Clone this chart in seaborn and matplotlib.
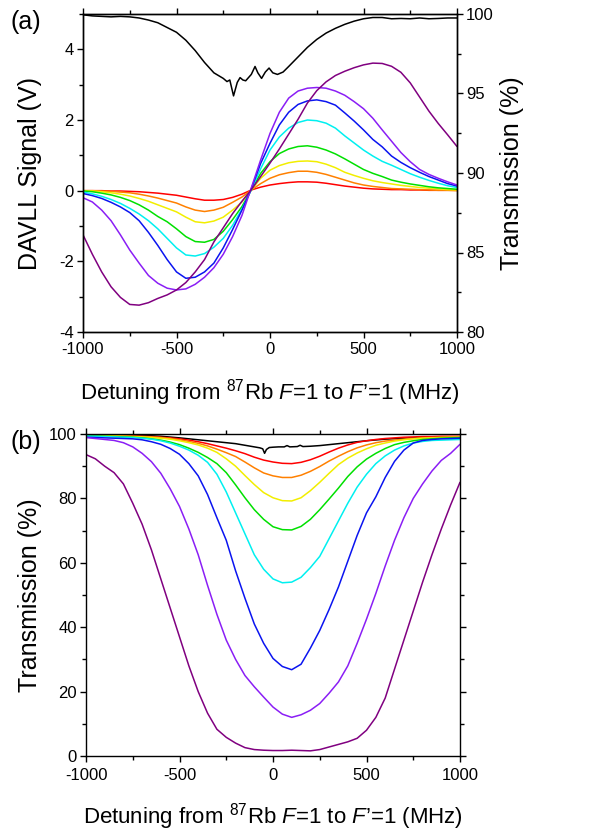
import numpy as np
import pandas as pd
import matplotlib
matplotlib.use("Agg")
import matplotlib.pyplot as plt
import seaborn as sns
from matplotlib.ticker import MultipleLocator

# ---------------- data ----------------
detuning = [-1000, -950, -900, -850, -800, -750, -700, -650, -600, -550, -500,
            -450, -400, -350, -300, -250, -200, -150, -100, -50, 0,
            50, 100, 150, 200, 250, 300, 350, 400, 450, 500,
            550, 600, 650, 700, 750, 800, 850, 900, 950, 1000]

# panel (a): DAVLL signal (V)
red_a = [0.00, 0.00, 0.00, -0.01, -0.01, -0.02, -0.03, -0.05, -0.07, -0.10, -0.13, -0.18, -0.23, -0.27, -0.27, -0.25, -0.19, -0.10, 0.02,
         0.10, 0.16, 0.20, 0.23, 0.25, 0.25, 0.24, 0.21, 0.17, 0.13, 0.10, 0.07, 0.05, 0.04, 0.03, 0.03, 0.02, 0.02, 0.01, 0.01, 0.01, 0.01]
orange_a = [0.00, 0.00, -0.01, -0.02, -0.04, -0.06, -0.10, -0.15, -0.21, -0.28, -0.35, -0.46, -0.55, -0.59, -0.55, -0.47, -0.33, -0.18, 0.02,
            0.20, 0.35, 0.45, 0.51, 0.55, 0.55, 0.52, 0.46, 0.38, 0.30, 0.22, 0.16, 0.12, 0.09, 0.06, 0.05, 0.04, 0.03, 0.02, 0.01, 0.01, 0.00]
yellow_a = [0.00, -0.01, -0.03, -0.06, -0.10, -0.15, -0.22, -0.30, -0.40, -0.50, -0.60, -0.75, -0.88, -0.91, -0.86, -0.75, -0.55, -0.32, 0.02,
            0.35, 0.58, 0.71, 0.79, 0.83, 0.84, 0.82, 0.75, 0.65, 0.52, 0.43, 0.35, 0.28, 0.23, 0.19, 0.15, 0.12, 0.09, 0.07, 0.05, 0.03, 0.02]
green_a = [-0.01, -0.03, -0.07, -0.12, -0.19, -0.28, -0.40, -0.55, -0.73, -0.88, -1.08, -1.30, -1.44, -1.46, -1.38, -1.15, -0.82, -0.45, 0.02,
           0.49, 0.82, 1.05, 1.18, 1.25, 1.27, 1.23, 1.15, 1.04, 0.90, 0.75, 0.60, 0.49, 0.40, 0.30, 0.24, 0.19, 0.15, 0.11, 0.08, 0.06, 0.04]
cyan_a = [-0.04, -0.09, -0.16, -0.25, -0.36, -0.50, -0.66, -0.85, -1.08, -1.35, -1.62, -1.82, -1.85, -1.78, -1.60, -1.35, -0.98, -0.52, 0.03,
          0.62, 1.15, 1.52, 1.77, 1.93, 2.00, 1.98, 1.91, 1.77, 1.55, 1.35, 1.15, 0.98, 0.83, 0.72, 0.60, 0.48, 0.38, 0.29, 0.21, 0.14, 0.09]
blue_a = [-0.08, -0.14, -0.22, -0.33, -0.46, -0.62, -0.85, -1.18, -1.55, -1.95, -2.30, -2.48, -2.45, -2.30, -2.05, -1.62, -1.10, -0.55, 0.05,
          0.77, 1.34, 1.86, 2.22, 2.44, 2.54, 2.57, 2.52, 2.42, 2.20, 1.97, 1.72, 1.45, 1.24, 0.98, 0.80, 0.65, 0.52, 0.40, 0.30, 0.20, 0.13]
violet_a = [-0.20, -0.32, -0.55, -0.85, -1.25, -1.68, -2.05, -2.40, -2.62, -2.76, -2.81, -2.78, -2.65, -2.45, -2.18, -1.80, -1.30, -0.70, 0.08,
            0.87, 1.62, 2.22, 2.62, 2.82, 2.90, 2.92, 2.90, 2.82, 2.70, 2.52, 2.32, 2.05, 1.72, 1.40, 1.08, 0.82, 0.60, 0.46, 0.35, 0.25, 0.16]
purple_a = [-1.25, -1.80, -2.30, -2.72, -3.02, -3.22, -3.24, -3.17, -3.05, -2.95, -2.81, -2.60, -2.30, -1.95, -1.45, -1.05, -0.65, -0.30, 0.03,
            0.40, 0.78, 1.18, 1.60, 2.02, 2.48, 2.83, 3.08, 3.26, 3.38, 3.48, 3.56, 3.61, 3.60, 3.52, 3.35, 3.05, 2.65, 2.25, 1.90, 1.58, 1.25]

# panel (a): reference transmission (%), right axis
detuning_ka = [-1000, -950, -900, -850, -800, -750, -700, -650, -600, -550, -500, -450, -400, -350, -300, -250,
               -230, -215, -195, -175, -160, -145, -130,
               -100, -80, -65, -45, -25, -5, 15, 40, 70,
               100, 150, 200, 250, 300, 350, 400, 450, 500, 550, 600, 650, 700, 750, 800, 850, 900, 950, 1000]
black_a = [99.95, 99.88, 99.85, 99.82, 99.85, 99.82, 99.75, 99.62, 99.45, 99.15, 98.85, 98.35, 97.70, 96.95, 96.30, 95.95,
           95.75, 95.85, 94.85, 95.70, 96.00, 95.85, 95.80,
           96.20, 96.70, 96.30, 95.95, 96.35, 96.60, 96.30, 96.20, 96.35,
           96.70, 97.30, 97.90, 98.40, 98.80, 99.10, 99.35, 99.55, 99.70, 99.78, 99.78, 99.70, 99.72, 99.70, 99.75, 99.70, 99.72, 99.75, 99.75]

# panel (b): transmission (%)
red_b = [99.7, 99.7, 99.6, 99.6, 99.5, 99.4, 99.3, 99.2, 99.0, 98.8, 98.5, 98.1, 97.6, 97.0, 96.3, 95.6, 94.8, 93.9, 92.8,
         91.9, 91.3, 90.9, 90.8, 91.2, 92.0, 93.1, 94.4, 95.6, 96.6, 97.4, 97.9, 98.3, 98.6, 98.8, 99.0, 99.1, 99.2, 99.2, 99.3, 99.3, 99.3]
orange_b = [99.8, 99.7, 99.6, 99.5, 99.4, 99.3, 99.2, 99.1, 98.9, 98.6, 98.2, 97.7, 97.1, 96.3, 95.3, 94.2, 93.0, 91.3, 89.5,
            87.9, 87.0, 86.5, 86.5, 87.2, 88.4, 89.9, 91.6, 93.1, 94.5, 95.7, 96.6, 97.3, 97.8, 98.1, 98.4, 98.6, 98.8, 98.9, 99.0, 99.0, 99.1]
yellow_b = [99.7, 99.6, 99.5, 99.4, 99.3, 99.2, 99.1, 98.9, 98.7, 98.4, 97.9, 97.3, 96.6, 95.6, 94.3, 92.3, 90.0, 87.1, 84.3,
            81.8, 80.2, 79.3, 79.2, 80.2, 82.4, 85.0, 87.8, 90.5, 92.5, 94.1, 95.4, 96.5, 97.2, 97.8, 98.2, 98.5, 98.7, 98.8, 98.9, 99.0, 99.0]
green_b = [99.5, 99.4, 99.3, 99.2, 99.1, 99.0, 98.8, 98.5, 98.1, 97.5, 96.7, 95.6, 94.3, 92.7, 90.8, 88.0, 84.2, 80.2, 76.5,
           73.5, 71.2, 70.3, 70.2, 71.3, 73.5, 76.5, 79.8, 83.2, 86.8, 89.8, 92.2, 94.0, 95.5, 96.7, 97.4, 97.9, 98.3, 98.5, 98.7, 98.8, 98.9]
cyan_b = [99.4, 99.3, 99.2, 99.1, 99.0, 98.9, 98.7, 98.4, 97.9, 97.2, 96.2, 95.0, 93.4, 91.2, 87.5, 82.0, 75.5, 69.0, 62.5,
          58.0, 55.0, 53.8, 54.0, 55.5, 58.5, 62.0, 67.5, 73.0, 78.5, 83.5, 87.5, 90.8, 93.2, 95.0, 96.3, 97.2, 97.7, 98.0, 98.1, 98.2, 98.3]
blue_b = [99.0, 98.9, 98.8, 98.7, 98.6, 98.5, 98.2, 97.6, 96.8, 95.5, 93.7, 90.8, 87.0, 81.2, 74.0, 67.0, 57.5, 49.0, 41.0,
          35.0, 30.3, 27.8, 26.8, 28.5, 33.5, 39.0, 45.5, 52.5, 60.5, 68.5, 75.5, 80.5, 86.5, 91.5, 95.0, 97.2, 98.0, 98.3, 98.5, 98.6, 98.7]
violet_b = [98.9, 98.6, 98.3, 98.0, 97.3, 96.0, 94.0, 91.4, 87.8, 83.0, 77.5, 70.5, 62.5, 53.0, 44.0, 36.0, 30.0, 25.0, 21.5,
            18.3, 15.2, 13.0, 12.0, 12.8, 14.2, 16.3, 19.5, 23.0, 28.0, 35.0, 42.5, 50.5, 59.0, 67.0, 74.0, 80.0, 84.5, 88.5, 91.8, 94.0, 96.8]
purple_b = [93.6, 92.3, 90.0, 88.0, 84.5, 78.5, 72.0, 64.0, 55.0, 46.0, 37.0, 28.0, 20.0, 13.3, 8.3, 5.8, 4.0, 2.6, 2.0,
            1.8, 1.7, 1.7, 1.8, 1.7, 1.6, 2.0, 2.8, 3.6, 4.4, 5.5, 8.0, 12.0, 18.0, 27.0, 36.0, 45.0, 54.0, 62.5, 70.5, 78.0, 85.0]

detuning_kb = [-1000, -900, -800, -700, -600, -500, -400, -300, -250, -200,
               -150, -100, -70, -55, -45, -35, -20, 0, 30, 60,
               75, 90, 130, 145, 160, 200, 250, 300, 400, 500,
               600, 700, 800, 900, 1000]
black_b = [99.9, 99.8, 99.7, 99.6, 99.3, 98.8, 98.2, 97.6, 97.3, 97.0,
           96.5, 96.0, 95.7, 95.4, 94.0, 95.2, 95.8, 95.9, 96.0, 96.0,
           96.4, 96.0, 96.1, 96.5, 96.1, 96.2, 96.4, 96.7, 97.3, 97.9,
           98.4, 98.7, 98.9, 99.0, 99.0]

series_names = ["red", "orange", "yellow", "green", "cyan", "blue", "violet", "purple"]
line_colors = ["#FF0000", "#FF8000", "#F2EE00", "#00E000", "#00F0F0", "#0A14F0", "#8A1EF5", "#800080"]
davll = [red_a, orange_a, yellow_a, green_a, cyan_a, blue_a, violet_a, purple_a]
trans = [red_b, orange_b, yellow_b, green_b, cyan_b, blue_b, violet_b, purple_b]

xlabel_text = "Detuning from $^{87}$Rb $F$=1 to $F$\u2019=1 (MHz)"

# ---------------- style ----------------
sns.set_theme(style="ticks")
plt.rcParams.update({
    "font.family": ["Liberation Sans", "DejaVu Sans"],
    "axes.unicode_minus": False,
    "mathtext.fontset": "custom",
    "mathtext.rm": "Liberation Sans",
    "mathtext.it": "Liberation Sans:italic",
    "mathtext.bf": "Liberation Sans:bold",
    "mathtext.sf": "Liberation Sans",
    "axes.linewidth": 1.0,
    "axes.edgecolor": "black",
    "xtick.color": "black",
    "ytick.color": "black",
    "text.color": "black",
    "axes.labelcolor": "black",
})

LW = 1.1
fig = plt.figure(figsize=(6.11, 8.34), dpi=100)


def style_ticks(a, **kw):
    a.tick_params(which="both", direction="out", labelsize=12, width=1.0, **kw)
    a.tick_params(which="major", length=4.5)
    a.tick_params(which="minor", length=3)


# ---------- panel (a) ----------
ax = fig.add_axes([83 / 611, 1 - 332 / 834, 374 / 611, 318 / 834])
ax2 = ax.twinx()
for name, vals, col in zip(series_names, davll, line_colors):
    sns.lineplot(x=detuning, y=vals, ax=ax, color=col, lw=LW, estimator=None, sort=False, legend=False)
sns.lineplot(x=detuning_ka, y=black_a, ax=ax2, color="black", lw=LW, estimator=None, sort=False, legend=False)

ax.set_xlim(-1000, 1000)
ax.set_ylim(-4, 5)
ax2.set_ylim(80, 100)
ax.xaxis.set_major_locator(MultipleLocator(500))
ax.xaxis.set_minor_locator(MultipleLocator(250))
ax.yaxis.set_major_locator(MultipleLocator(2))
ax.yaxis.set_minor_locator(MultipleLocator(1))
ax2.yaxis.set_major_locator(MultipleLocator(5))
ax2.yaxis.set_minor_locator(MultipleLocator(2.5))
style_ticks(ax, top=True, right=False, pad=2)
style_ticks(ax2, pad=2)
ax.tick_params(axis="x", pad=3)
ax.set_xlabel(xlabel_text, fontsize=16, va="center", ha="center")
ax.xaxis.set_label_coords(0.5, (332 - 393) / 318)
ax.set_ylabel("DAVLL Signal (V)", fontsize=18, va="center", ha="center")
ax.yaxis.set_label_coords((30 - 83) / 374, 0.5)
ax2.set_ylabel("Transmission (%)", fontsize=18, va="center", ha="center", rotation=90)
ax2.yaxis.set_label_coords((512 - 83) / 374, 0.5)

# ---------- panel (b) ----------
bx = fig.add_axes([86 / 611, 1 - 756 / 834, 374 / 611, 322 / 834])
sns.lineplot(x=detuning_kb, y=black_b, ax=bx, color="black", lw=LW, estimator=None, sort=False, legend=False)
for name, vals, col in zip(series_names, trans, line_colors):
    sns.lineplot(x=detuning, y=vals, ax=bx, color=col, lw=LW, estimator=None, sort=False, legend=False)
bx.set_xlim(-1000, 1000)
bx.set_ylim(0, 100)
bx.xaxis.set_major_locator(MultipleLocator(500))
bx.xaxis.set_minor_locator(MultipleLocator(250))
bx.yaxis.set_major_locator(MultipleLocator(20))
bx.yaxis.set_minor_locator(MultipleLocator(10))
style_ticks(bx, top=True, right=True, pad=2)
bx.tick_params(axis="x", pad=4)
bx.set_xlabel(xlabel_text, fontsize=16, va="center", ha="center")
bx.xaxis.set_label_coords(0.5, (756 - 817) / 322)
bx.set_ylabel("Transmission (%)", fontsize=18, va="center", ha="center")
bx.yaxis.set_label_coords((30 - 86) / 374, 0.5)

fig.text(10 / 611, 1 - 22 / 834, "(a)", fontsize=18, va="center", ha="left")
fig.text(10 / 611, 1 - 442 / 834, "(b)", fontsize=18, va="center", ha="left")

fig.savefig("out.png", dpi=100)
